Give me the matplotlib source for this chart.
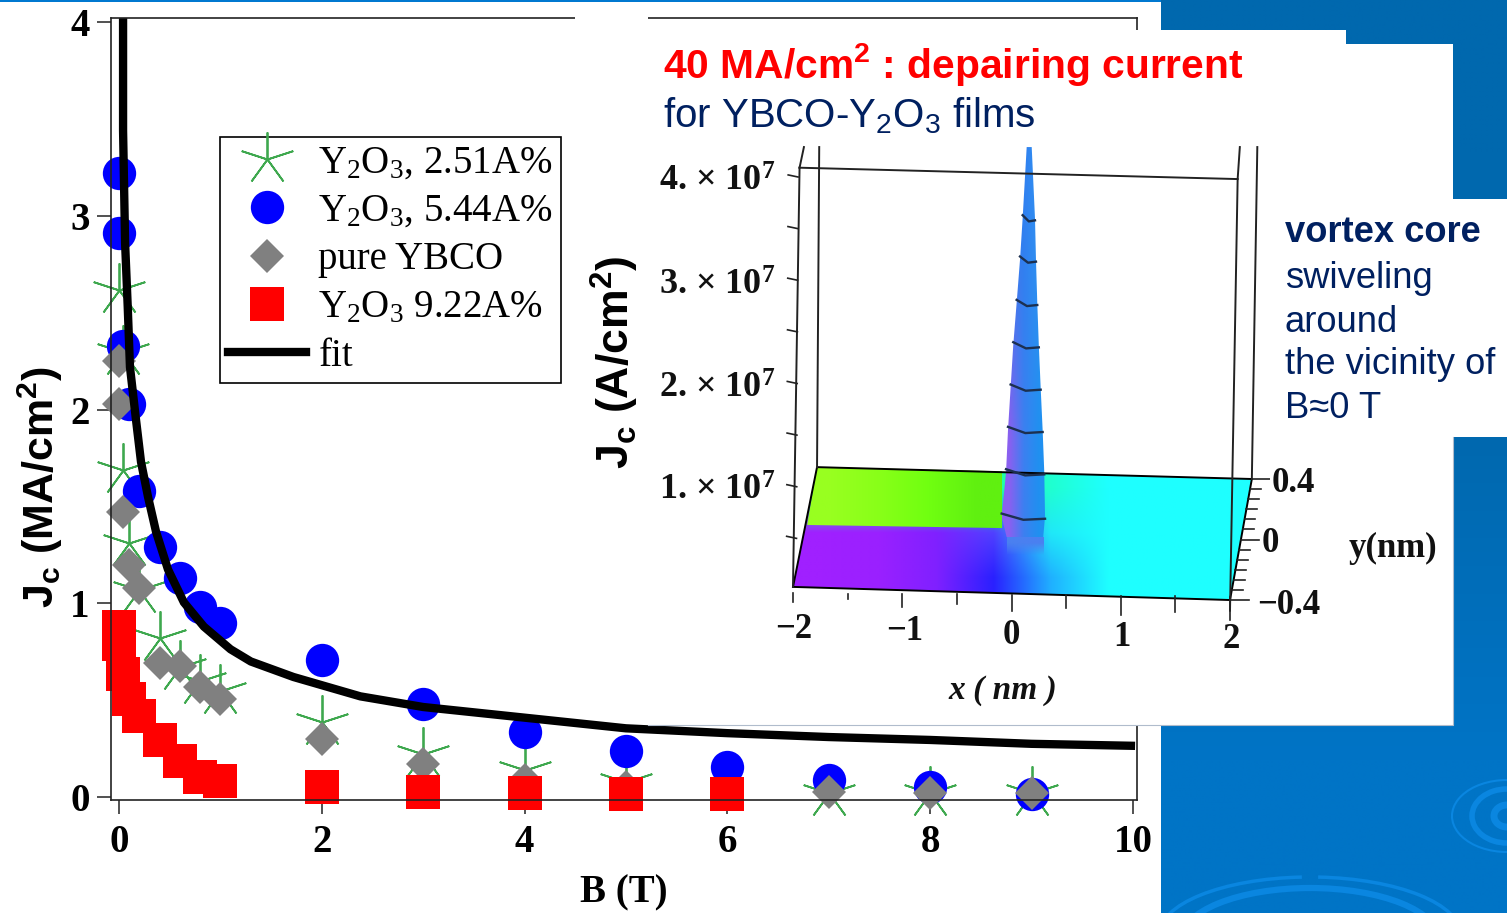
import numpy as np
import matplotlib
matplotlib.use("Agg")
import matplotlib.pyplot as plt
from matplotlib.colors import to_rgb
from matplotlib.patches import Arc, Polygon, Rectangle

plt.rcParams['mathtext.default'] = 'regular'
SERIF = 'Liberation Serif'
SANS = 'Liberation Sans'

W, H = 1507, 913

# main plot
star_b = [0, 0.04, 0.04, 0.1, 0.2, 0.4, 0.6, 0.8, 1, 2, 3, 4, 5, 7, 8, 9]
star_j = [2.62, 2.3, 1.69, 1.31, 1.07, 0.82, 0.67, 0.6, 0.55, 0.39, 0.22, 0.14, 0.08, 0.02, 0.02, 0.02]
blue_b = [0, 0, 0.04, 0.1, 0.2, 0.4, 0.6, 0.8, 1, 2, 3, 4, 5, 6, 7, 8, 9]
blue_j = [3.22, 2.91, 2.33, 2.03, 1.58, 1.29, 1.13, 0.98, 0.9, 0.71, 0.48, 0.335, 0.24, 0.155, 0.09, 0.05, 0.015]
pure_b = [0, 0, 0.04, 0.1, 0.2, 0.4, 0.6, 0.8, 1, 2, 3, 4, 5, 7, 8, 9]
pure_j = [2.25, 2.03, 1.47, 1.2, 1.08, 0.69, 0.675, 0.57, 0.505, 0.3, 0.17, 0.09, 0.05, 0.025, 0.02, 0.02]
red_b = [0, 0, 0.04, 0.1, 0.2, 0.4, 0.6, 0.8, 1, 2, 3, 4, 5, 6]
red_j = [0.876, 0.79, 0.634, 0.505, 0.418, 0.294, 0.186, 0.103, 0.082, 0.05, 0.025, 0.02, 0.018, 0.018]
fit_b = [0.04, 0.04, 0.06, 0.086, 0.108, 0.167, 0.217, 0.286, 0.365, 0.483, 0.64, 0.837, 1.1, 1.3, 1.72, 2.38,
         3, 4, 5, 6, 7, 8, 9, 9.98]
fit_j = [4.02, 3.44, 2.86, 2.53, 2.22, 1.95, 1.73, 1.55, 1.37, 1.175, 1.005, 0.88, 0.763, 0.7, 0.62, 0.52,
         0.465, 0.41, 0.355, 0.33, 0.31, 0.295, 0.275, 0.265]

# inset, x in nm and z in 1e7 A/cm2
spike_z = [0.51, 0.71, 1.14, 1.55, 1.96, 2.37, 2.78, 3.2, 3.6, 4.29]
spike_left = [-0.044, -0.09, -0.05, -0.032, -0.008, 0.016, 0.047, 0.078, 0.102, 0.139]
spike_right = [0.29, 0.307, 0.3, 0.285, 0.267, 0.25, 0.236, 0.224, 0.215, 0.185]
floor_x = [-2.0, -1.78, 2.2, 2.0]
floor_z = [0.03, 1.19, 1.075, -0.097]
green_x = [-1.87, -1.78, -0.087, -0.087]
green_z = [0.63, 1.19, 1.15, 0.6]
floor_colors = [
    ['#20ffa0', '#20ffa0', '#20ffa0', '#20ffa0', '#20ffd0', '#1effff', '#1effff', '#1effff'],
    ['#a020ff', '#9a20ff', '#8020ff', '#5040ff', '#20e8f8', '#1effff', '#1effff', '#1effff'],
    ['#a020ff', '#9a20ff', '#8020ff', '#2a20ff', '#20b0ff', '#1effff', '#1effff', '#1effff'],
]
green_colors = [['#98ff20', '#88ff18', '#70ff10', '#60f010']]
spike_colors = [['#3c78e8', '#3080f0', '#3090f0'], ['#8a60f0', '#3c80f0', '#2090f0']]
fade_alpha = [1.0, 0.0]


def rgb(rows):
    return np.array([[to_rgb(c) for c in r] for r in rows])


def px_box(x0, y0, x1, y1):
    return [x0 / W, 1 - y1 / H, (x1 - x0) / W, (y1 - y0) / H]


fig = plt.figure(figsize=(W / 100, H / 100), dpi=100, facecolor='white')

# background
bg = fig.add_axes([0, 0, 1, 1], zorder=0)
bg.axis('off')
bg.imshow(rgb([['#0068ae'], ['#0069b0'], ['#0074c6']]), extent=[1161, W, H, 0], aspect='auto', interpolation='bilinear')
clip_rect = Rectangle((1161, 0), W - 1161, H, transform=bg.transData, fc='none', ec='none')
bg.add_patch(clip_rect)
for cx, cy, wd, ht, t1, t2, lw in [(1310, 940, 258, 104, 180, 360, 4.5),
                                   (1310, 935, 302, 116, 180, 262, 2.5),
                                   (1310, 935, 302, 116, 278, 360, 2.5),
                                   (1507, 816, 26, 22, 0, 360, 5),
                                   (1507, 816, 70, 54, 0, 360, 4),
                                   (1507, 816, 110, 72, 60, 300, 1.5)]:
    arc = Arc((cx, cy), wd, ht, theta1=t1, theta2=t2, color='#0a86e0', lw=lw)
    bg.add_patch(arc)
    arc.set_clip_path(clip_rect)
bg.set_xlim(0, W)
bg.set_ylim(H, 0)

# main chart
ax = fig.add_axes(px_box(110.7, 18.3, 1137, 800), zorder=1)
ax.plot(star_b, star_j, ls='none', marker=(5, 2, 0), ms=39, mew=1.3, color='#3ea84e', clip_on=False, label=r'Y$_{2}$O$_{3}$, 2.51A%')
ax.plot(blue_b, blue_j, ls='none', marker='o', ms=24, mew=0, color='#0000ff', clip_on=False, label=r'Y$_{2}$O$_{3}$, 5.44A%')
ax.plot(pure_b, pure_j, ls='none', marker='D', ms=17, mew=0, color='#808080', clip_on=False, label='pure YBCO')
ax.plot(red_b, red_j, ls='none', marker='s', ms=24, mew=0, color='#ff0000', clip_on=False, label=r'Y$_{2}$O$_{3}$ 9.22A%')
ax.plot(fit_b, fit_j, color='black', lw=6, solid_joinstyle='miter', label='fit')
ax.set_xlim(-0.082, 10.04)
ax.set_ylim(-0.015, 4.02)
ax.set_xticks([0, 2, 4, 6, 8, 10])
ax.set_yticks([0, 1, 2, 3, 4])
ax.tick_params(axis='x', length=10, width=1.1, color='#222222', pad=7)
ax.tick_params(axis='y', length=10, width=1.1, color='#222222', pad=5)
for lab in ax.get_xticklabels() + ax.get_yticklabels():
    lab.set_family(SERIF)
    lab.set_weight('bold')
    lab.set_size(28)
for s in ax.spines.values():
    s.set_linewidth(1.2)
    s.set_color('#222222')
ax.set_xlabel('B (T)', family=SERIF, weight='bold', size=28, labelpad=10)
ax.set_ylabel(r'J$_{c}$ (MA/cm$^{2}$)', family=SANS, weight='bold', size=31, labelpad=8)
ax.yaxis.set_label_coords(-0.045, 0.40)

leg = ax.legend(loc='upper left', bbox_to_anchor=((220 - 110.7) / 1026.3, 1 - (137 - 18.3) / 781.7), frameon=True,
                fancybox=False, framealpha=1, edgecolor='black', prop={'family': SERIF, 'size': 28},
                labelspacing=0.29, handlelength=2.0, handletextpad=0.33, borderaxespad=0, borderpad=0.2)
leg.get_frame().set_linewidth(1.2)
handles = leg.get_lines()
handles[0].set_markersize(39)
for h in handles[1:4]:
    h.set_clip_on(False)

# white slide panels
top = fig.add_axes([0, 0, 1, 1], zorder=2)
top.axis('off')
top.patch.set_alpha(0)
for x0, y0, x1, y1 in [(648, 30, 1346, 725), (1346, 44, 1453, 725), (575, 0, 648, 30),
                       (1453, 199, W, 437), (1139, 2, 1161, 30)]:
    top.add_patch(Rectangle((x0, y0), x1 - x0, y1 - y0, color='white', lw=0))
top.plot([648, 1453, 1453], [725.5, 725.5, 437], color='#b0bccc', lw=0.8)
top.add_patch(Rectangle((0, 0), 1161, 1.6, color='#0078d0', lw=0))
top.set_xlim(0, W)
top.set_ylim(H, 0)

navy = '#002060'
top.text(663, 65, r'40 MA/cm$^{2}$ : depairing current', color='#ff0000', family=SANS, weight='bold', size=29.3, va='center')
top.text(663, 116, r'for YBCO-Y$_{2}$O$_{3}$ films', color=navy, family=SANS, size=29, va='center')
top.text(1285, 233, 'vortex core', color=navy, family=SANS, weight='bold', size=26.2, va='center')
for yy, line in zip([278, 322, 365, 408], ['swiveling', 'around', 'the vicinity of', 'B≈0 T']):
    top.text(1285, yy, line, color=navy, family=SANS, size=26.2, va='center')

# inset surface
ins = fig.add_axes(px_box(770, 130, 1270, 625), zorder=3)
ins.axis('off')
ins.patch.set_alpha(0)
poly = Polygon(list(zip(floor_x, floor_z)), closed=True, transform=ins.transData, fc='none', ec='none')
ins.add_patch(poly)
im = ins.imshow(rgb(floor_colors), extent=[-2.0, 2.2, -0.1, 1.19], aspect='auto', interpolation='bilinear')
im.set_clip_path(poly)
gpoly = Polygon(list(zip(green_x, green_z)), closed=True, transform=ins.transData, fc='none', ec='none')
ins.add_patch(gpoly)
im2 = ins.imshow(rgb(green_colors), extent=[-1.87, -0.087, 0.6, 1.19], aspect='auto', interpolation='bilinear')
im2.set_clip_path(gpoly)
ins.plot(floor_x + floor_x[:1], floor_z + floor_z[:1], color='black', lw=1.4)

spts = list(zip(spike_left, spike_z)) + list(zip(spike_right, spike_z))[::-1]
spoly = Polygon(spts, closed=True, transform=ins.transData, fc='none', ec='none')
ins.add_patch(spoly)
im3 = ins.imshow(rgb(spike_colors), extent=[-0.09, 0.307, 0.51, 4.29], aspect='auto', interpolation='bilinear')
im3.set_clip_path(spoly)
# base of the spike fades into the floor
fade = np.zeros((2, 1, 4))
fade[:, :, :3] = to_rgb('#4a80f0')
fade[:, 0, 3] = fade_alpha
ins.imshow(fade, extent=[-0.044, 0.29, 0.28, 0.51], aspect='auto', interpolation='bilinear')
for l, r, z in zip(spike_left[1:-1], spike_right[1:-1], spike_z[1:-1]):
    ins.plot([l, (l + r) / 2, r], [z + 0.03, z - 0.03, z - 0.02], color='#1c3050', lw=1.7)

# inset frame
frame_color = '#222222'
ins.plot([-1.94, -2.0], [4.09, 0.03], color=frame_color, lw=1.4)
ins.plot([-1.94, 2.07], [4.09, 3.98], color=frame_color, lw=1.4)
ins.plot([-1.76, -1.78], [4.29, 1.19], color=frame_color, lw=1.4)
ins.plot([2.25, 2.2], [4.29, 1.075], color=frame_color, lw=1.4)
ins.plot([2.09, 2.07, 2.0], [4.29, 3.98, -0.2], color=frame_color, lw=1.4)
ins.plot([-1.94, -1.90], [4.09, 4.29], color=frame_color, lw=1.4)
for i, xt in enumerate(np.arange(-2, 2.01, 0.5)):
    ins.plot([xt, xt], [-0.03 - 0.0083 * (xt + 2), (-0.12 if i % 2 == 0 else -0.07) - 0.0083 * (xt + 2) * 5],
             color=frame_color, lw=1.2)
for i, zt in enumerate(np.arange(0.5, 4.01, 0.5)):
    ins.plot([-1.97 + 0.004 * zt - 0.09, -1.97 + 0.004 * zt], [zt + 0.02, zt], color=frame_color, lw=1.2)
for i, t in enumerate(np.linspace(0, 1, 13)):
    xb = 2.0 + 0.2 * t
    zb = -0.097 + 1.172 * t
    ins.plot([xb, xb + (0.17 if i % 6 == 0 else 0.1)], [zb, zb], color=frame_color, lw=1.2)
ins.set_xlim((770 - 1011.5) / 109.25, (1270 - 1011.5) / 109.25)
ins.set_ylim((590 - 625) / 103.25, (590 - 130) / 103.25)

# inset labels
lab = dict(family=SERIF, weight='bold', ha='center', va='center', color='#111111')
for yy, s in zip([182, 286, 389, 491], ['4', '3', '2', '1']):
    top.text(717, yy, s + '. × 10$^{7}$', size=26, **lab)
for xx, yy, s in zip([794, 905, 1011, 1122, 1231], [630, 632, 635, 637, 640], ['−2', '−1', '0', '1', '2']):
    top.text(xx, yy, s, size=25, **lab)
for xx, yy, s in zip([1293, 1270, 1289], [484, 543, 605], ['0.4', '0', '−0.4']):
    top.text(xx, yy, s, size=25, **lab)
top.text(1393, 548, 'y(nm)', size=25, **lab)
top.text(1003, 690, 'x ( nm )', size=24, style='italic', **lab)
top.text(615, 362, r'J$_{c}$ (A/cm$^{2}$)', family=SANS, weight='bold', size=32, rotation=90, ha='center', va='center')

fig.savefig('out.png', dpi=100)
